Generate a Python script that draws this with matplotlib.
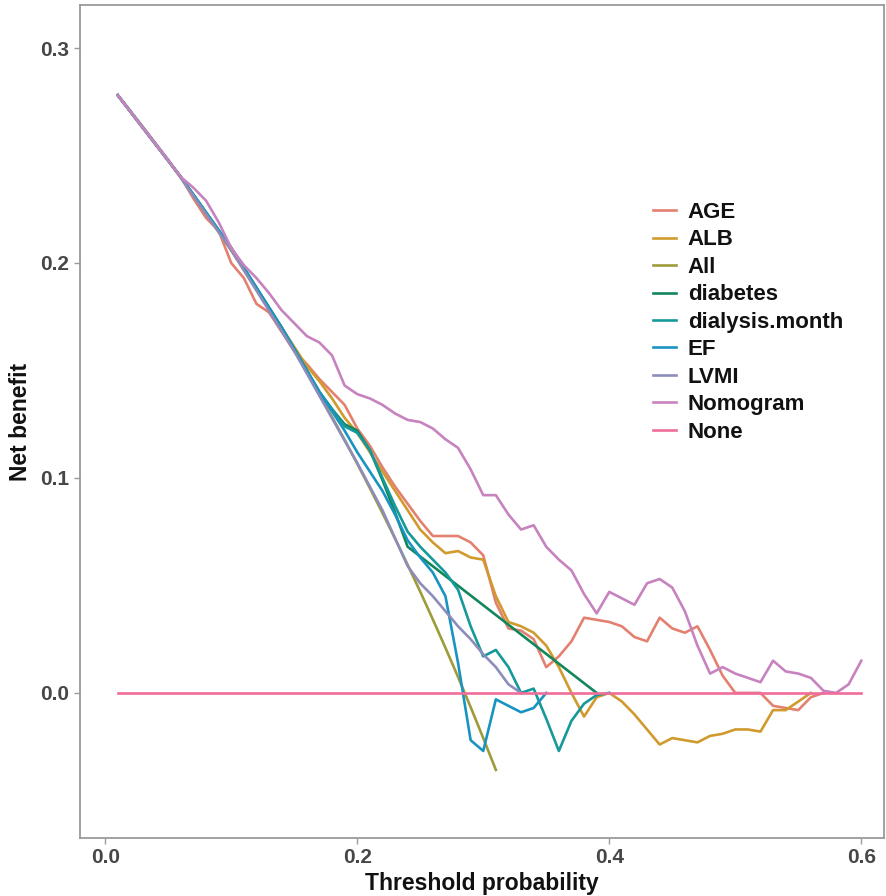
import matplotlib
matplotlib.use("Agg")
import matplotlib.pyplot as plt

plt.rcParams["font.family"] = ["Liberation Sans", "DejaVu Sans"]

# Decision curve data: threshold probability vs. net benefit per model
thr_all = [0.01, 0.02, 0.03, 0.04, 0.05, 0.06, 0.07, 0.08, 0.09, 0.10,
           0.11, 0.12, 0.13, 0.14, 0.15, 0.16, 0.17, 0.18, 0.19, 0.20,
           0.21, 0.22, 0.23, 0.24, 0.25, 0.26, 0.27, 0.28, 0.29, 0.30, 0.31]
nb_all = [0.2781, 0.2707, 0.2632, 0.2555, 0.2477, 0.2397, 0.2315, 0.2232, 0.2146, 0.2059,
          0.1970, 0.1878, 0.1785, 0.1690, 0.1592, 0.1492, 0.1389, 0.1284, 0.1177, 0.1066,
          0.0953, 0.0837, 0.0718, 0.0596, 0.0471, 0.0342, 0.0210, 0.0074, -0.0066, -0.0210, -0.0358]

thr_age = [0.01, 0.06, 0.07, 0.08, 0.09, 0.10, 0.11, 0.12, 0.13, 0.14, 0.15, 0.16, 0.17,
           0.18, 0.19, 0.20, 0.21, 0.22, 0.23, 0.24, 0.25, 0.26, 0.27, 0.28, 0.29, 0.30,
           0.31, 0.32, 0.33, 0.34, 0.35, 0.36, 0.37, 0.38, 0.39, 0.40, 0.41, 0.42, 0.43,
           0.44, 0.45, 0.46, 0.47, 0.48, 0.49, 0.50, 0.51, 0.52, 0.53, 0.54, 0.55, 0.56, 0.57]
nb_age = [0.278, 0.240, 0.230, 0.221, 0.215, 0.200, 0.193, 0.181, 0.177, 0.168, 0.159, 0.153, 0.146,
          0.140, 0.134, 0.123, 0.115, 0.105, 0.096, 0.088, 0.080, 0.073, 0.073, 0.073, 0.070, 0.064,
          0.042, 0.030, 0.029, 0.025, 0.012, 0.017, 0.024, 0.035, 0.034, 0.033, 0.031, 0.026, 0.024,
          0.035, 0.030, 0.028, 0.031, 0.020, 0.008, 0.000, 0.000, 0.000, -0.006, -0.007, -0.008, -0.002, 0.000]

thr_alb = [0.01, 0.06, 0.10, 0.14, 0.16, 0.17, 0.18, 0.19, 0.20, 0.21, 0.22, 0.23, 0.24,
           0.25, 0.26, 0.27, 0.28, 0.29, 0.30, 0.31, 0.32, 0.33, 0.34, 0.35, 0.36, 0.37,
           0.38, 0.39, 0.40, 0.41, 0.42, 0.43, 0.44, 0.45, 0.46, 0.47, 0.48, 0.49, 0.50,
           0.51, 0.52, 0.53, 0.54, 0.55, 0.56]
nb_alb = [0.278, 0.240, 0.206, 0.170, 0.152, 0.145, 0.137, 0.128, 0.121, 0.112, 0.103, 0.094, 0.085,
          0.076, 0.070, 0.065, 0.066, 0.063, 0.062, 0.045, 0.033, 0.031, 0.028, 0.022, 0.012, 0.000,
          -0.011, -0.002, 0.000, -0.004, -0.010, -0.017, -0.024, -0.021, -0.022, -0.023, -0.020, -0.019, -0.017,
          -0.017, -0.018, -0.008, -0.008, -0.004, 0.000]

thr_diab = [0.01, 0.06, 0.10, 0.14, 0.17, 0.18, 0.19, 0.20, 0.21, 0.22, 0.23, 0.24, 0.39]
nb_diab = [0.278, 0.240, 0.207, 0.170, 0.140, 0.132, 0.125, 0.122, 0.113, 0.099, 0.084, 0.068, 0.000]

thr_dial = [0.01, 0.06, 0.10, 0.14, 0.17, 0.18, 0.19, 0.20, 0.21, 0.22, 0.23, 0.24, 0.25,
            0.26, 0.27, 0.28, 0.29, 0.30, 0.31, 0.32, 0.33, 0.34, 0.35, 0.36, 0.37, 0.38,
            0.39, 0.40]
nb_dial = [0.278, 0.240, 0.207, 0.170, 0.140, 0.132, 0.124, 0.121, 0.113, 0.100, 0.087, 0.075, 0.068,
           0.062, 0.056, 0.048, 0.031, 0.017, 0.020, 0.012, 0.000, 0.002, -0.012, -0.027, -0.013, -0.005,
           -0.001, 0.000]

thr_ef = [0.01, 0.06, 0.10, 0.14, 0.17, 0.18, 0.19, 0.20, 0.21, 0.22, 0.23, 0.24, 0.25,
          0.26, 0.27, 0.28, 0.29, 0.30, 0.31, 0.32, 0.33, 0.34, 0.35]
nb_ef = [0.278, 0.240, 0.207, 0.170, 0.140, 0.131, 0.122, 0.112, 0.103, 0.094, 0.083, 0.071, 0.063,
         0.056, 0.045, 0.014, -0.022, -0.027, -0.003, -0.006, -0.009, -0.007, 0.000]

thr_lvmi = [0.01, 0.05, 0.10, 0.15, 0.20, 0.22, 0.24, 0.25, 0.26, 0.27, 0.28, 0.29, 0.30,
            0.31, 0.32, 0.33]
nb_lvmi = [0.278, 0.248, 0.206, 0.159, 0.107, 0.085, 0.059, 0.051, 0.045, 0.038, 0.031, 0.025, 0.018,
           0.012, 0.004, 0.000]

thr_nomo = [0.01, 0.06, 0.07, 0.08, 0.09, 0.10, 0.11, 0.12, 0.13, 0.14, 0.15, 0.16, 0.17,
            0.18, 0.19, 0.20, 0.21, 0.22, 0.23, 0.24, 0.25, 0.26, 0.27, 0.28, 0.29, 0.30,
            0.31, 0.32, 0.33, 0.34, 0.35, 0.36, 0.37, 0.38, 0.39, 0.40, 0.41, 0.42, 0.43,
            0.44, 0.45, 0.46, 0.47, 0.48, 0.49, 0.50, 0.51, 0.52, 0.53, 0.54, 0.55, 0.56,
            0.57, 0.58, 0.59, 0.60]
nb_nomo = [0.278, 0.240, 0.235, 0.229, 0.219, 0.207, 0.199, 0.193, 0.186, 0.178, 0.172, 0.166, 0.163,
           0.157, 0.143, 0.139, 0.137, 0.134, 0.130, 0.127, 0.126, 0.123, 0.118, 0.114, 0.104, 0.092,
           0.092, 0.083, 0.076, 0.078, 0.068, 0.062, 0.057, 0.046, 0.037, 0.047, 0.044, 0.041, 0.051,
           0.053, 0.049, 0.038, 0.022, 0.009, 0.012, 0.009, 0.007, 0.005, 0.015, 0.010, 0.009, 0.007,
           0.001, 0.000, 0.004, 0.015]

thr_none = [0.01, 0.60]
nb_none = [0.0, 0.0]

series = [
    ("AGE", thr_age, nb_age, "#E3806F"),
    ("ALB", thr_alb, nb_alb, "#D09A2E"),
    ("All", thr_all, nb_all, "#9E9B3A"),
    ("diabetes", thr_diab, nb_diab, "#13875C"),
    ("dialysis.month", thr_dial, nb_dial, "#16999A"),
    ("EF", thr_ef, nb_ef, "#1994C2"),
    ("LVMI", thr_lvmi, nb_lvmi, "#8C8DBA"),
    ("Nomogram", thr_nomo, nb_nomo, "#C783BF"),
    ("None", thr_none, nb_none, "#F06C9B"),
]

fig = plt.figure(figsize=(8.86, 8.96), dpi=100)
ax = fig.add_axes([0.0903, 0.0647, 0.9074, 0.9297])

for name, x, y, col in series:
    ax.plot(x, y, color=col, lw=1.9, label=name, solid_joinstyle="round")

ax.set_xlim(-0.02, 0.618)
ax.set_ylim(-0.0675, 0.32)
ax.set_xticks([0.0, 0.2, 0.4, 0.6])
ax.set_xticklabels(["0.0", "0.2", "0.4", "0.6"])
ax.set_yticks([0.0, 0.1, 0.2, 0.3])
ax.set_yticklabels(["0.0", "0.1", "0.2", "0.3"])

for side in ax.spines.values():
    side.set_color("#9A9A9A")
    side.set_linewidth(1.3)
ax.tick_params(axis="both", colors="#9A9A9A", length=4, width=1.0,
               labelsize=15, labelcolor="#474747")
for lab in ax.get_xticklabels() + ax.get_yticklabels():
    lab.set_fontweight("bold")

ax.set_xlabel("Threshold probability", fontsize=16.5, fontweight="bold",
              color="#111111", labelpad=3)
ax.set_ylabel("Net benefit", fontsize=16.5, fontweight="bold",
              color="#111111", labelpad=6)

leg = ax.legend(loc="upper left", bbox_to_anchor=(0.7127, 0.7635), frameon=False,
                fontsize=16, handlelength=1.03, handletextpad=0.54,
                labelspacing=0.29, borderaxespad=0, borderpad=0)
for t in leg.get_texts():
    t.set_fontweight("bold")
    t.set_color("#111111")

fig.savefig("out.png", dpi=100)
